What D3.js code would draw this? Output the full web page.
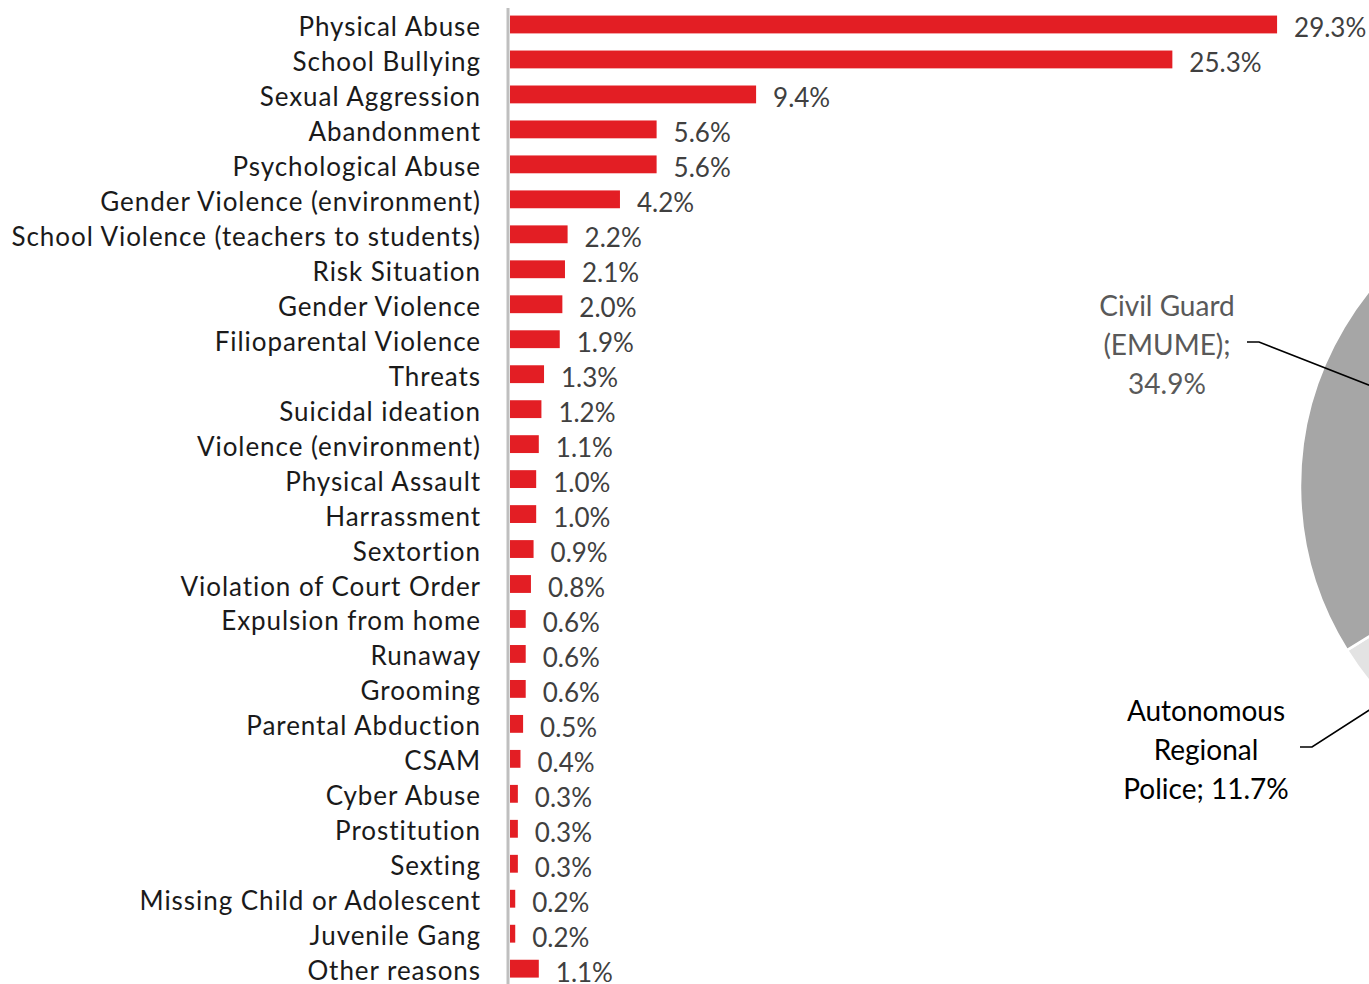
<!DOCTYPE html>
<html>
<head>
<meta charset="utf-8">
<script src="https://cdn.jsdelivr.net/npm/d3@7"></script>
<style>
  html, body { margin: 0; padding: 0; background: #fff; overflow: hidden; }
  svg { display: block; }
</style>
</head>
<body>
<svg id="chart" width="1369" height="984"></svg>
<script>
// ---- Data ----
const categories = [
  "Physical Abuse", "School Bullying", "Sexual Aggression", "Abandonment",
  "Psychological Abuse", "Gender Violence (environment)",
  "School Violence (teachers to students)", "Risk Situation", "Gender Violence",
  "Filioparental Violence", "Threats", "Suicidal ideation", "Violence (environment)",
  "Physical Assault", "Harrassment", "Sextortion", "Violation of Court Order",
  "Expulsion from home", "Runaway", "Grooming", "Parental Abduction", "CSAM",
  "Cyber Abuse", "Prostitution", "Sexting", "Missing Child or Adolescent",
  "Juvenile Gang", "Other reasons"
];
const values = [
  29.3, 25.3, 9.4, 5.6, 5.6, 4.2, 2.2, 2.1, 2.0, 1.9, 1.3, 1.2, 1.1, 1.0,
  1.0, 0.9, 0.8, 0.6, 0.6, 0.6, 0.5, 0.4, 0.3, 0.3, 0.3, 0.2, 0.2, 1.1
];
const valueLabels = values.map(v => v.toFixed(1) + "%");

const pieCategories = ["Autonomous Regional Police", "Civil Guard (EMUME)", "Rest"];
const pieValues = [11.7, 34.9, 53.4];
const pieLabelLines = [
  ["Autonomous", "Regional", "Police; 11.7%"],
  ["Civil Guard", "(EMUME);", "34.9%"],
  null
];

// ---- Layout ----
const svg = d3.select("#chart");
const W = 1369, H = 984;

const x = d3.scaleLinear().domain([0, 30]).range([510, 510 + 30 * 26.18]);
const y = d3.scaleBand().domain(categories).range([7, 7 + 28 * 34.97]).paddingInner(0.49).paddingOuter(0.245);

// ---- Pie (drawn first, partly off-canvas) ----
const cx = 1610, cy = 486, R = 310;
const pie = d3.pie().sort(null).value(d => d)
  .startAngle(195.9 * Math.PI / 180).endAngle((195.9 + 360) * Math.PI / 180);
const arcs = pie(pieValues);
const arc = d3.arc().innerRadius(0).outerRadius(R);
const pieColors = ["#e3e3e3", "#a6a6a6", "#7f7f7f"];
const pg = svg.append("g").attr("transform", `translate(${cx},${cy})`);
pg.selectAll("path").data(arcs).enter().append("path")
  .attr("d", arc)
  .attr("fill", (d, i) => pieColors[i])
  .attr("stroke", "#fff").attr("stroke-width", 2.5);

// leader lines + labels
const leaderFactor = [0.54, 0.12];
const labelPos = [
  { x: 1206, y: 710, elbowX: 1300, elbowY: 747, fill: "#000" },
  { x: 1167, y: 305, elbowX: 1247, elbowY: 342, fill: "#595959" }
];
arcs.forEach((a, i) => {
  if (!pieLabelLines[i]) return;
  const lp = labelPos[i];
  const mid = (a.startAngle + a.endAngle) / 2;
  const rr = R * leaderFactor[i];
  const ex = cx + rr * Math.sin(mid), ey = cy - rr * Math.cos(mid);
  svg.append("path")
    .attr("d", `M${lp.elbowX},${lp.elbowY}H${lp.elbowX + 12}L${ex},${ey}`)
    .attr("fill", "none").attr("stroke", "#000").attr("stroke-width", 1.6);
  const t = svg.append("text")
    .attr("text-anchor", "middle")
    .attr("font-family", "Lato, 'Open Sans', sans-serif")
    .attr("font-size", 28)
    .attr("fill", lp.fill);
  pieLabelLines[i].forEach((line, k) => {
    t.append("tspan").attr("x", lp.x).attr("y", lp.y + k * 39)
      .attr("dominant-baseline", "central").text(line);
  });
});

// ---- Bars ----
const g = svg.append("g");
g.selectAll("rect.bar").data(values).enter().append("rect")
  .attr("class", "bar")
  .attr("x", x(0))
  .attr("y", (d, i) => y(categories[i]))
  .attr("width", d => x(d) - x(0))
  .attr("height", y.bandwidth())
  .attr("fill", "#e31e24");

// axis line
svg.append("line")
  .attr("x1", 508).attr("x2", 508)
  .attr("y1", 8).attr("y2", H)
  .attr("stroke", "#bfbfbf").attr("stroke-width", 3);

// category labels
g.selectAll("text.cat").data(categories).enter().append("text")
  .attr("class", "cat")
  .attr("x", 481)
  .attr("y", d => y(d) + y.bandwidth() / 2 + 1.5)
  .attr("text-anchor", "end")
  .attr("dominant-baseline", "central")
  .attr("font-family", "Lato, sans-serif")
  .attr("font-size", 26)
  .attr("letter-spacing", 0.95)
  .attr("fill", "#1a1a1a")
  .text(d => d);

// value labels
g.selectAll("text.val").data(values).enter().append("text")
  .attr("class", "val")
  .attr("x", d => x(d) + 17)
  .attr("y", (d, i) => y(categories[i]) + y.bandwidth() / 2 + 3)
  .attr("dominant-baseline", "central")
  .attr("font-family", "Lato, sans-serif")
  .attr("font-size", 26)
  .attr("fill", "#404040")
  .text((d, i) => valueLabels[i]);
</script>
</body>
</html>
